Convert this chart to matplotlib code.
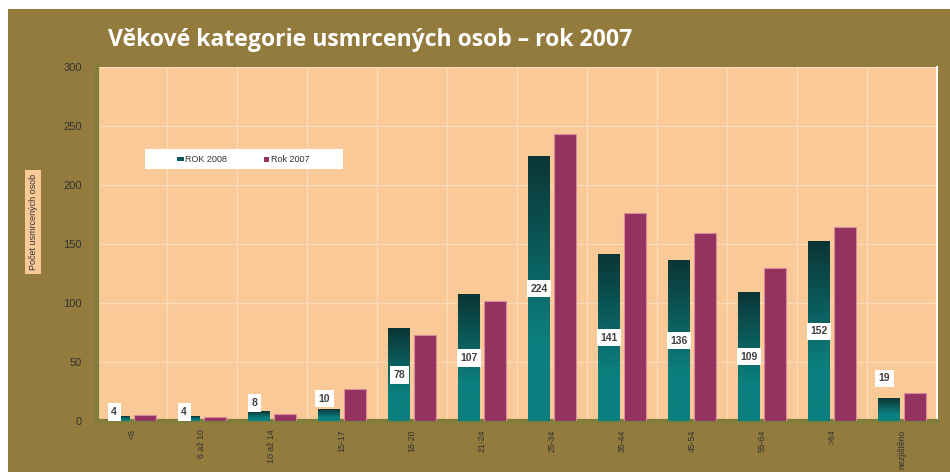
import numpy as np
import matplotlib
matplotlib.use("Agg")
import matplotlib.pyplot as plt
from matplotlib.colors import LinearSegmentedColormap
from matplotlib.patches import Rectangle

# Data
kategorie = ["<6", "6 až 10", "10 až 14", "15-17", "18-20", "21-24", "25-34",
             "35-44", "45-54", "55-64", ">64", "nezjištěno"]
rok_2008 = [4, 4, 8, 10, 78, 107, 224, 141, 136, 109, 152, 19]
rok_2007 = [5, 3, 6, 27, 73, 102, 243, 176, 159, 130, 164, 24]

BG = "#937b3e"
PLOT_BG = "#f9c998"
PURPLE = "#943260"
TEAL_TOP = "#0b3535"
TEAL_BOT = "#0b7f7f"
NARROW = ["Liberation Sans Narrow", "Liberation Sans", "DejaVu Sans"]

W, H = 950, 472
fig = plt.figure(figsize=(W / 100, H / 100), dpi=100)
fig.patch.set_facecolor("white")
# hnědý panel (bílé proužky nahoře a vlevo)
fig.patches.append(Rectangle((8 / W, 0), 1, 1 - 9 / H, transform=fig.transFigure,
                             facecolor=BG, edgecolor="none", zorder=-10))

ax = fig.add_axes([97 / W, 1 - 421 / H, (937 - 97) / W, (421 - 67) / H])
ax.set_facecolor(PLOT_BG)

x = np.arange(len(kategorie))
bw = 0.31
off = 0.185
cmap = LinearSegmentedColormap.from_list(
    "teal", [(0, TEAL_BOT), (0.3, TEAL_BOT), (1, TEAL_TOP)])
grad = np.linspace(0, 1, 256).reshape(-1, 1)

for xi, v in zip(x, rok_2008):
    ax.imshow(grad, cmap=cmap, aspect="auto", origin="lower",
              extent=(xi - off - bw / 2, xi - off + bw / 2, 0, v), zorder=3)
ax.bar(x + off, rok_2007, width=bw, color=PURPLE, edgecolor="#d98a9a",
       linewidth=0.8, zorder=3)

# popisky hodnot 2008
for xi, v in zip(x, rok_2008):
    if v > 50:
        ly, lx = v / 2, xi - off
    else:
        ly, lx = v * 1.9, xi - off - 0.07
    ax.text(lx, ly, str(v), ha="center", va="center", fontsize=7.5,
            fontweight="bold", color="#404040", zorder=5, family="Liberation Sans",
            bbox=dict(boxstyle="square,pad=0.35", facecolor="white", edgecolor="none"))

ax.set_xlim(-0.5, len(kategorie) - 0.5)
ax.set_ylim(0, 300)
ax.set_yticks(range(0, 301, 50))
ax.set_xticks(x)
ax.set_xticklabels(kategorie, rotation=90, fontsize=6.3, color="#333333",
                   family=NARROW)
for lbl in ax.get_yticklabels():
    lbl.set_family("Liberation Sans")
ax.tick_params(axis="y", labelsize=8, colors="#333333", length=0, pad=11)
ax.tick_params(axis="x", length=0, pad=6)
ax.set_xticks(np.arange(0.5, len(kategorie) - 0.5, 1), minor=True)
ax.tick_params(axis="x", which="minor", length=0)
ax.grid(axis="y", color="#fcdcb8", linewidth=1, zorder=0)
ax.grid(axis="x", which="minor", color="#fcdcb8", linewidth=1, zorder=0)
ax.set_axisbelow(True)
for s in ["left", "bottom"]:
    ax.spines[s].set_color("#7f7d3a")
    ax.spines[s].set_linewidth(3)
ax.spines["top"].set_visible(False)
ax.spines["right"].set_color("white")
ax.spines["right"].set_linewidth(1.5)

# legenda
fig.patches.append(Rectangle((145 / W, 1 - 169 / H), 198 / W, 20 / H,
                             transform=fig.transFigure, facecolor="white",
                             edgecolor="none", zorder=4))
fig.patches.append(Rectangle((177 / W, 1 - 161 / H), 7 / W, 4 / H,
                             transform=fig.transFigure, facecolor="#0b5a5a", zorder=5))
fig.text(185 / W, 1 - 159 / H, "ROK 2008", fontsize=6.5, color="#333333",
         va="center", ha="left", zorder=6, family="Liberation Sans")
fig.patches.append(Rectangle((264 / W, 1 - 162 / H), 5 / W, 5 / H,
                             transform=fig.transFigure, facecolor=PURPLE, zorder=5))
fig.text(271 / W, 1 - 159 / H, "Rok 2007", fontsize=6.5, color="#333333",
         va="center", ha="left", zorder=6, family="Liberation Sans")

# nadpis
fig.text(108 / W, 1 - 40 / H, "Věkové kategorie usmrcených osob – rok 2007",
         fontsize=16.6, fontweight="bold", color="white", family="Open Sans",
         va="center", ha="left")

# popisek osy y
fig.text(33 / W, 1 - 222 / H, "Počet usmrcených osob", rotation=90, fontsize=6.5,
         color="#333333", va="center", ha="center", family=NARROW,
         bbox=dict(boxstyle="square,pad=0.4", facecolor=PLOT_BG, edgecolor="none"))

fig.savefig("out.png", dpi=100, facecolor=fig.get_facecolor())
